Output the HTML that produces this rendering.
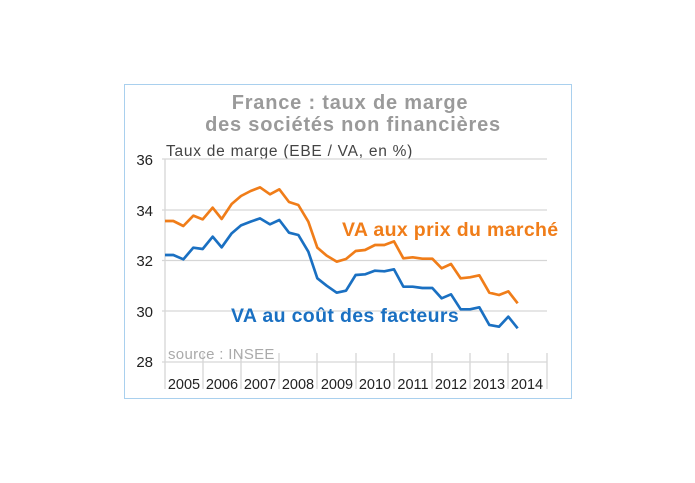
<!DOCTYPE html>
<html><head><meta charset="utf-8"><style>
html,body{margin:0;padding:0;background:#fff;width:695px;height:483px;overflow:hidden}
svg{display:block}
</style></head><body>
<svg width="695" height="483" viewBox="0 0 695 483" xmlns="http://www.w3.org/2000/svg" font-family="Liberation Sans, sans-serif">
<rect x="124.5" y="84.5" width="447" height="314" fill="#fff" stroke="#a9d0ee" stroke-width="1"/>
<text x="350" y="109" text-anchor="middle" font-size="20" font-weight="bold" fill="#9a9a9a" letter-spacing="0.8">France : taux de marge</text>
<text x="353" y="131" text-anchor="middle" font-size="20" font-weight="bold" fill="#9a9a9a" letter-spacing="0.8">des sociétés non financières</text>
<text x="166" y="156" font-size="15.5" fill="#444" letter-spacing="0.75">Taux de marge (EBE / VA, en %)</text>
<g stroke="#d6d6d6" stroke-width="1.3">
<line x1="162" y1="159" x2="547" y2="159"/>
<line x1="162" y1="210" x2="547" y2="210"/>
<line x1="162" y1="260.5" x2="547" y2="260.5"/>
<line x1="162" y1="311" x2="547" y2="311"/>
<line x1="162" y1="362" x2="547" y2="362"/>
<line x1="165" y1="159" x2="165" y2="389"/>
<line x1="203" y1="353" x2="203" y2="389"/>
<line x1="241" y1="353" x2="241" y2="389"/>
<line x1="279" y1="353" x2="279" y2="389"/>
<line x1="317" y1="353" x2="317" y2="389"/>
<line x1="356" y1="353" x2="356" y2="389"/>
<line x1="394" y1="353" x2="394" y2="389"/>
<line x1="432" y1="353" x2="432" y2="389"/>
<line x1="470" y1="353" x2="470" y2="389"/>
<line x1="508" y1="353" x2="508" y2="389"/>
<line x1="547" y1="353" x2="547" y2="389"/>
</g>
<g font-size="15" fill="#222" text-anchor="end">
<text x="153" y="165">36</text><text x="153" y="216">34</text><text x="153" y="266">32</text><text x="153" y="317">30</text><text x="153" y="367">28</text>
</g>
<g font-size="14.5" fill="#222" text-anchor="middle">
<text x="184" y="389">2005</text><text x="222" y="389">2006</text><text x="260" y="389">2007</text><text x="298" y="389">2008</text><text x="337" y="389">2009</text><text x="375" y="389">2010</text><text x="413" y="389">2011</text><text x="451" y="389">2012</text><text x="489" y="389">2013</text><text x="527" y="389">2014</text>
</g>
<text x="168" y="359" font-size="15" fill="#aaa" letter-spacing="0.3">source : INSEE</text>
<g transform="translate(120,80) scale(0.33333)" fill="none" stroke-width="8" stroke-linejoin="round">
<polyline stroke="#f07d19" points="135,423 160,423 190,438 220,407 248,418 278,383 305,417 335,372 363,348 392,333 420,322 450,343 478,328 507,366 535,375 565,425 592,503 620,527 650,545 678,537 707,513 735,510 765,495 793,495 822,484 850,535 878,532 907,536 937,536 965,565 993,552 1022,595 1050,592 1078,586 1108,638 1137,645 1165,634 1193,670"/>
<polyline stroke="#1a70c2" points="135,525 160,525 190,538 220,503 248,507 278,470 305,502 335,460 363,436 392,425 420,415 450,433 478,420 507,458 535,465 565,515 592,595 620,617 650,638 678,632 707,585 735,583 765,572 793,574 822,568 850,620 878,620 907,624 937,624 965,655 993,643 1022,688 1050,688 1078,682 1108,735 1137,740 1165,710 1193,745"/>
</g>
<text x="342" y="236" font-size="19.5" font-weight="bold" fill="#f07d19" letter-spacing="0.35">VA aux prix du marché</text>
<text x="231" y="322" font-size="19.5" font-weight="bold" fill="#1a70c2" letter-spacing="0.35">VA au coût des facteurs</text>
</svg>
</body></html>
